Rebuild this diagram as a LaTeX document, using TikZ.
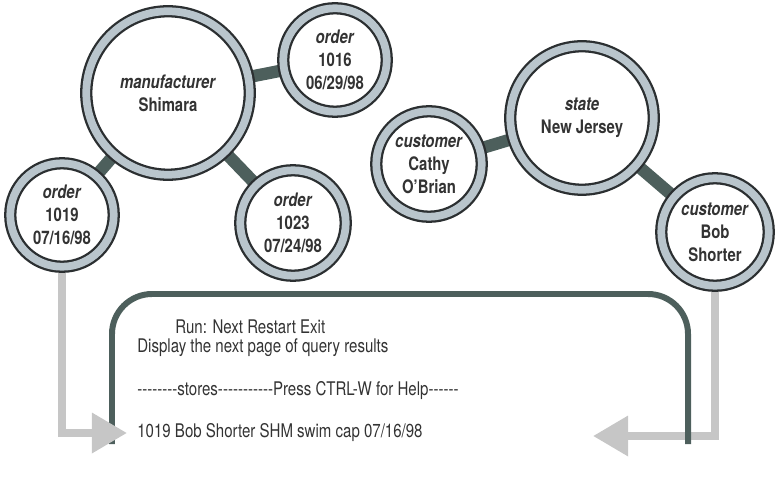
\documentclass[tikz,border=0pt]{standalone}
\usepackage{fontspec}
\setmainfont{TeX Gyre Heros}[FakeStretch=0.8]
\newfontfamily\termfont{TeX Gyre Heros}[FakeStretch=0.8, Ligatures=TeXOff]
\usetikzlibrary{arrows.meta, backgrounds}

\definecolor{ringline}{HTML}{2B2F31}
\definecolor{ringfill}{HTML}{B9C5CC}
\definecolor{barcol}{HTML}{4D5F5C}
\definecolor{arrowgray}{HTML}{C6C6C6}
\definecolor{textgray}{HTML}{333333}

\begin{document}
\begin{tikzpicture}[
    x=0.02cm, y=-0.02cm,
    entity/.style = {circle, draw=ringline, line width=1.3pt, double=ringfill, double distance=4.4pt, fill=white, inner sep=0pt, align=center, text=textgray, font=\fontsize{10.6}{13}\selectfont\bfseries},
    link/.style   = {barcol, line width=7pt},
    feed/.style   = {arrowgray, line width=4.5pt, -{Triangle[length=20pt, width=22pt]}},
    screen/.style = {barcol, line width=3.4pt, rounded corners=0.8cm},
    termline/.style = {anchor=west, inner sep=0pt, text=textgray, font=\termfont\fontsize{10.7}{12}\selectfont}
]
    \useasboundingbox (0,0) rectangle (776,482);

    % --- Manufacturer and its orders ---
    \node (mfr)   [entity, minimum size=3.27cm] at (168,93)  {\textit{manufacturer}\\Shimara};
    \node (o1016) [entity, minimum size=2.07cm] at (335,60)  {\textit{order}\\1016\\06/29/98};
    \node (o1019) [entity, minimum size=2.07cm] at (62,215)  {\textit{order}\\1019\\07/16/98};
    \node (o1023) [entity, minimum size=2.11cm] at (293,223) {\textit{order}\\1023\\07/24/98};

    % --- State and its customers ---
    \node (state) [entity, minimum size=2.87cm] at (582,118) {\textit{state}\\New Jersey};
    \node (cathy) [entity, minimum size=2.11cm] at (429,164) {\textit{customer}\\Cathy\\O'Brian};
    \node (bob)   [entity, minimum size=2.15cm] at (715,232) {\textit{customer}\\Bob\\Shorter};

    % --- Query screen text ---
    \node (run)    [termline] at (175,327) {Run: Next Restart Exit};
    \node (disp)   [termline] at (137,348) {Display the next page of query results};
    \node (stores) [termline] at (137,391) {--------stores-----------Press CTRL-W for Help------};
    \node (row)    [termline] at (137,433) {1019 Bob Shorter SHM swim cap 07/16/98};

    % --- Ends of the arrows into the screen ---
    \coordinate (inleft)  at (127,433);
    \coordinate (inright) at (593,436);

    \begin{pgfonlayer}{background}
        % Links between entities
        \draw [link] (mfr.center) -- (o1016.center);
        \draw [link] (mfr.center) -- (o1019.center);
        \draw [link] (mfr.center) -- (o1023.center);
        \draw [link] (cathy.center) -- (state.center);
        \draw [link] (state.center) -- (bob.center);

        % Arrow from customer Bob
        \draw [feed] (bob.south) -- (bob.south |- inright) -- (inright);

        % Screen frame
        \draw [screen] (112,444) -- (112,294) -- (688,294) -- (688,444);

        % Arrow from order 1019
        \draw [feed] (o1019.south) -- (o1019.south |- inleft) -- (inleft);
    \end{pgfonlayer}

\end{tikzpicture}
\end{document}
